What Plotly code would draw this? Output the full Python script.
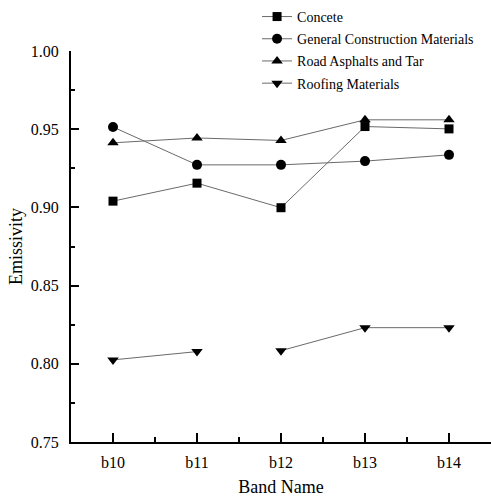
import plotly.graph_objects as go

bands = ["b10", "b11", "b12", "b13", "b14"]
concrete = [0.904, 0.9155, 0.8998, 0.9517, 0.9502]
general = [0.9514, 0.9272, 0.9272, 0.9296, 0.9336]
road = [0.9413, 0.9444, 0.9428, 0.9560, 0.9560]
roofing = [0.8025, 0.8078, 0.8084, 0.8231, 0.8231]
# the roofing line is drawn broken between b11 and b12 in the reference
roof_split = 2

y_ticks = [0.75, 0.80, 0.85, 0.90, 0.95, 1.00]
y_ticktext = ["0.75", "0.80", "0.85", "0.90", "0.95", "1.00"]

FONT = "Liberation Serif, Times New Roman, serif"
LINE = "#6a6a6a"

fig = go.Figure()

series = [
    ("Concete", concrete, "square", 9),
    ("General Construction Materials", general, "circle", 10),
    ("Road Asphalts and Tar", road, "triangle-up", 10),
]
for name, vals, sym, sz in series:
    fig.add_trace(go.Scatter(
        x=bands, y=vals, name=name, mode="lines+markers",
        legendgroup=name,
        line=dict(color=LINE, width=1),
        marker=dict(symbol=sym, size=sz, color="black"),
    ))

fig.add_trace(go.Scatter(
    x=bands[:roof_split], y=roofing[:roof_split], name="Roofing Materials",
    mode="lines+markers", legendgroup="roof",
    line=dict(color=LINE, width=1),
    marker=dict(symbol="triangle-down", size=10, color="black"),
))
fig.add_trace(go.Scatter(
    x=bands[roof_split:], y=roofing[roof_split:], name="Roofing Materials",
    mode="lines+markers", legendgroup="roof", showlegend=False,
    line=dict(color=LINE, width=1),
    marker=dict(symbol="triangle-down", size=10, color="black"),
))

# helper trace for the minor x ticks between categories
fig.add_trace(go.Scatter(x=[0], y=[0.5], xaxis="x2", mode="markers",
                         marker=dict(opacity=0), showlegend=False, hoverinfo="skip"))

fig.update_layout(
    width=491, height=499,
    margin=dict(l=71, r=0, t=51, b=57, autoexpand=False),
    paper_bgcolor="white", plot_bgcolor="white",
    font=dict(family=FONT, color="black", size=16),
    showlegend=True,
    legend=dict(
        x=0.443, y=1.128, xanchor="left", yanchor="top",
        font=dict(family=FONT, size=14, color="black"),
        bgcolor="rgba(0,0,0,0)", traceorder="grouped", tracegroupgap=1,
    ),
    xaxis=dict(
        type="category", categoryarray=bands, range=[-0.5, 4.5],
        showline=True, linecolor="black", linewidth=2,
        ticks="inside", ticklen=9, tickwidth=1.5, tickcolor="black",
        showgrid=False, zeroline=False, automargin=False,
        tickfont=dict(family=FONT, size=16),
        ticklabelstandoff=5,
        title=dict(text="Band Name", font=dict(family=FONT, size=18), standoff=10),
    ),
    xaxis2=dict(
        overlaying="x", range=[-0.5, 4.5], showline=False, showgrid=False,
        zeroline=False, showticklabels=False, automargin=False,
        tickmode="array", tickvals=[0.5, 1.5, 2.5, 3.5],
        ticks="inside", ticklen=5, tickwidth=1.5, tickcolor="black",
        side="bottom", anchor="y",
    ),
    yaxis=dict(
        range=[0.75, 1.0],
        tickmode="array", tickvals=y_ticks, ticktext=y_ticktext,
        showline=True, linecolor="black", linewidth=2,
        ticks="inside", ticklen=8, tickwidth=1.5, tickcolor="black",
        minor=dict(dtick=0.025, tick0=0.75, ticks="inside", ticklen=4,
                   tickwidth=1.5, tickcolor="black", showgrid=False),
        showgrid=False, zeroline=False, automargin=False,
        tickfont=dict(family=FONT, size=16),
        ticklabelstandoff=7,
        title=dict(text="Emissivity", font=dict(family=FONT, size=18), standoff=3),
    ),
)

fig.write_html("out.html", config={"displayModeBar": False},
               post_script="document.body.style.margin='0';")
